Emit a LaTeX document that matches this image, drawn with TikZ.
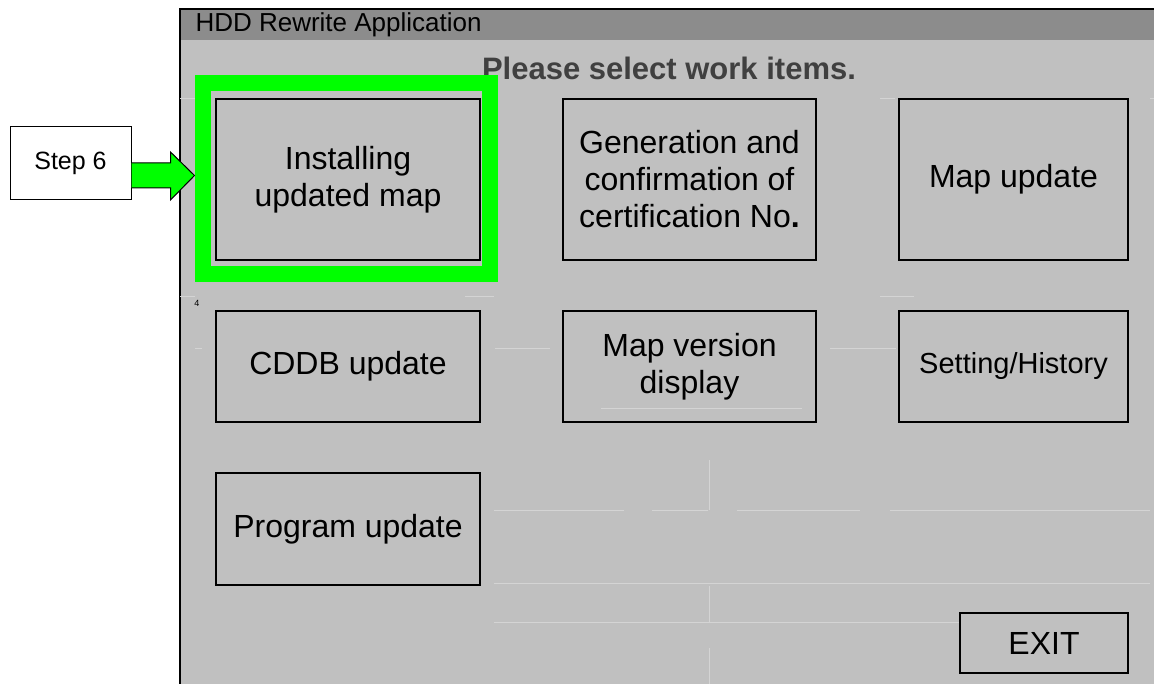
\documentclass[tikz,border=0pt]{standalone}
\usepackage{fontspec}
\setmainfont{Liberation Sans}
\usepackage{xcolor}
\usepackage{tikz}
\usetikzlibrary{positioning, calc}
\definecolor{panelgray}{RGB}{192,192,192}
\definecolor{bargray}{RGB}{140,140,140}
\definecolor{headgray}{RGB}{64,64,64}
\definecolor{ghostline}{RGB}{212,212,212}

\begin{document}
\begin{tikzpicture}[x=1pt, y=-1pt,
    btn/.style={draw, line width=1.6pt, fill=panelgray, align=center, inner sep=0pt,
      font=\fontsize{32}{37}\selectfont},
    pointer/.style={draw, fill=green, line width=1pt, line join=miter}]
  \useasboundingbox (0,0) rectangle (1154,684);

  % Screen
  \fill[panelgray] (180,9) rectangle (1154,684);
  \fill[bargray] (180,9) rectangle (1154,40);
  \draw[line width=2pt] (180,684) -- (180,9) -- (1154,9);
  \node[anchor=west, font=\fontsize{26}{30}\selectfont] (title) at (192,25) {HDD Rewrite Application};

  % Faint grid left behind the buttons
  \foreach \xa/\ya/\xb/\yb in {180/99/195/99, 880/99/895/99, 1150/99/1154/99,
      180/297/195/297, 465/297/494/297, 880/297/914/297,
      195/349/202/349, 495/349/550/349, 830/349/896/349,
      494/510/624/510, 652/510/708/510, 737/510/860/510, 890/510/1150/510,
      494/583/1150/583, 494/622/1100/622,
      709/460/709/510, 709/586/709/622, 709/648/709/684,
      601/409/802/409} {
    \draw[ghostline, line width=1pt] (\xa,\ya) -- (\xb,\yb);
  }

  \node[font=\bfseries\fontsize{31}{36}\selectfont, text=headgray, anchor=base] (heading) at (669,80) {Please select work items.};
  \node[font=\fontsize{9}{10}\selectfont] (pagemark) at (197,303) {4};

  % Buttons
  \node[btn, minimum width=264pt, minimum height=161pt] (install) at (348,179.5) {Installing\\updated map};
  \node[btn, minimum width=253pt, minimum height=161pt] (certno) at (689.5,179.5) {Generation and\\confirmation of\\certification No\textbf{.}};
  \node[btn, minimum width=229pt, minimum height=161pt] (mapupd) at (1013.5,179.5) {Map update};
  \node[btn, minimum width=264pt, minimum height=111pt] (cddb) at (348,366.5) {CDDB update};
  \node[btn, minimum width=253pt, minimum height=111pt] (mapver) at (689.5,366.5) {Map version\\display};
  \node[btn, minimum width=229pt, minimum height=111pt, font=\fontsize{29}{34}\selectfont] (history) at (1013.5,366.5) {Setting/History};
  \node[btn, minimum width=264pt, minimum height=112pt] (program) at (348,529) {Program update};
  \node[btn, minimum width=168pt, minimum height=60pt] (exit) at (1044,643) {EXIT};
  \draw[ghostline, line width=1pt] (601,409) -- (802,409);

  % Highlight
  \node[draw=green, line width=16pt, minimum width=287pt, minimum height=191pt, inner sep=0pt] (hilite) at (346.5,178.5) {};

  % Step label and arrow
  \node[draw, fill=white, line width=1pt, minimum width=121pt, minimum height=73pt,
    font=\fontsize{25}{30}\selectfont] (step) at (70.5,163.5) {Step 6};
  \coordinate (tip) at ($(hilite.west)+(-0.5,-3)$);
  \draw[pointer] ($(step.east)+(0,-0.5)$) -- ($(tip)+(-24,-12.5)$) -- ($(tip)+(-24,-23.5)$)
    -- (tip) -- ($(tip)+(-24,24.5)$) -- ($(tip)+(-24,12.5)$) -- ($(step.east)+(0,24.5)$);
\end{tikzpicture}
\end{document}
